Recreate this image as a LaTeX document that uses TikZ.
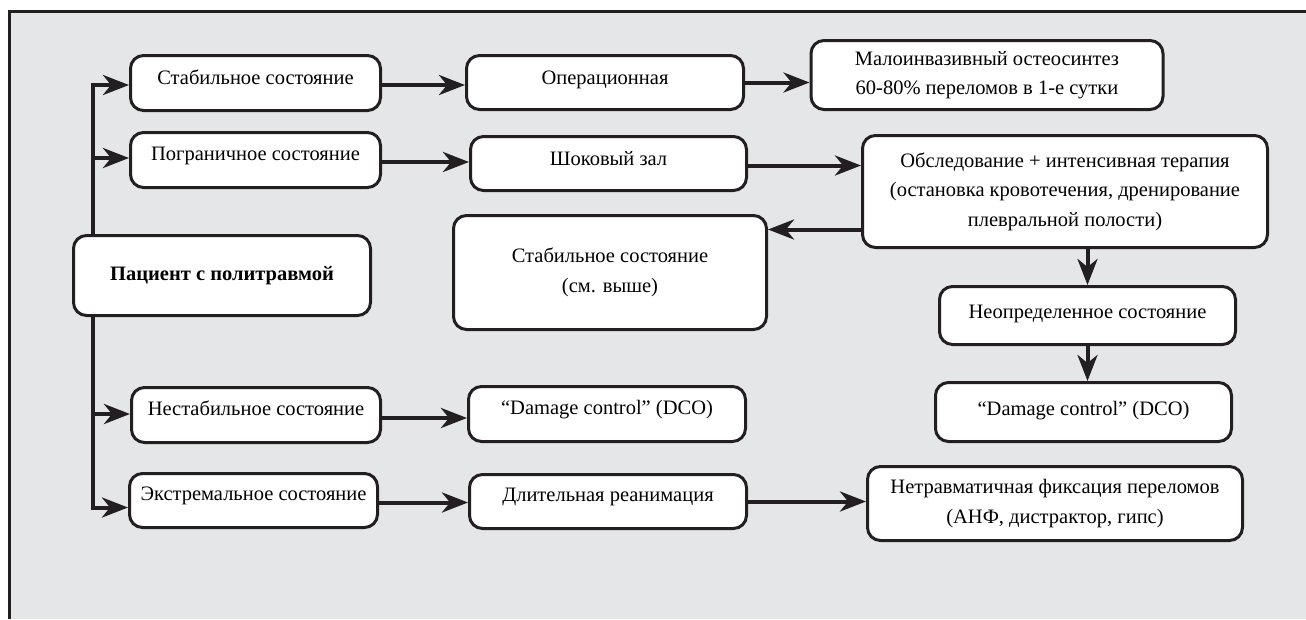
\documentclass[tikz,border=0pt]{standalone}
\usepackage{fontspec}
\setmainfont{Liberation Serif}
\usetikzlibrary{arrows.meta}
\definecolor{bggray}{HTML}{E5E6E8}
\definecolor{ink}{HTML}{231F20}
\begin{document}
\begin{tikzpicture}[x=1pt,y=-1pt,
  box/.style={draw=ink, line width=3pt, fill=white, rounded corners=13pt,
    align=center, inner sep=0pt, font=\fontsize{20.5}{29.5}\selectfont},
  hi/.style={text height=12pt, text depth=12pt},
  lo/.style={text height=13pt, text depth=10pt},
  mid/.style={text height=14pt, text depth=8pt},
  arr/.style={draw=ink, line width=4pt, line join=miter,
    -{Stealth[length=26pt,width=20pt,inset=8pt]}}
]
\useasboundingbox (0,0) rectangle (1306,619);
\fill[bggray] (9.5,11) rectangle (1306,619);
\draw[ink, line width=3pt] (9.5,619) -- (9.5,11) -- (1306,11);

% nodes
\node[box, lo, minimum width=250pt, minimum height=55pt] (s1) at (255.5,83) {Стабильное состояние};
\node[box, hi, minimum width=250pt, minimum height=55pt] (s2) at (255.5,160) {Пограничное состояние};
\node[box, minimum width=297pt, minimum height=80pt] (pat) at (222,275.5) {\textbf{Пациент с политравмой}};
\node[box, hi, minimum width=249pt, minimum height=55pt] (s3) at (256,415) {Нестабильное состояние};
\node[box, hi, minimum width=248pt, minimum height=54pt] (s4) at (253.5,500.5) {Экстремальное состояние};

\node[box, lo, minimum width=277pt, minimum height=54pt] (op) at (605,82.5) {Операционная};
\node[box, lo, minimum width=276pt, minimum height=54pt] (sh) at (608.5,163.5) {Шоковый зал};
\node[box, minimum width=313pt, minimum height=114pt] (st2) at (610,272.5) {Стабильное состояние\\(см. выше)};
\node[box, hi, minimum width=277pt, minimum height=55pt] (dc1) at (607,414) {“Damage control” (DCO)};
\node[box, hi, minimum width=277pt, minimum height=54pt] (dl) at (608,501.5) {Длительная реанимация};

\node[box, minimum width=352pt, minimum height=69pt] (mi) at (987,75) {Малоинвазивный остеосинтез\\60-80\% переломов в 1-е сутки};
\node[box, minimum width=405pt, minimum height=112pt] (ob) at (1065,191.5) {Обследование + интенсивная терапия\\(остановка кровотечения, дренирование\\плевральной полости)};
\node[box, mid, minimum width=296pt, minimum height=58pt] (un) at (1087.5,315.5) {Неопределенное состояние};
\node[box, mid, minimum width=296pt, minimum height=59pt] (dc2) at (1083.5,412) {“Damage control” (DCO)};
\node[box, minimum width=375pt, minimum height=74pt] (nt) at (1055,503.5) {Нетравматичная фиксация переломов\\(АНФ, дистрактор, гипс)};

% trunk
\coordinate (tr) at (93,0);
\draw[arr] (pat.north -| tr) |- ([yshift=-2pt]s1.west);
\draw[arr] (pat.north -| tr) |- ([yshift=2pt]s2.west);
\draw[arr] (pat.south -| tr) |- ([yshift=1pt]s3.west);
\draw[arr] (pat.south -| tr) |- ([yshift=-7pt]s4.west);

% row arrows
\draw[arr] ([yshift=-2pt]s1.east) -- ([yshift=-2pt]s1.east -| op.west);
\draw[arr] ([yshift=-2pt]s2.east) -- ([yshift=-2pt]s2.east -| sh.west);
\draw[arr] (op.east) -- (op.east -| mi.west);
\draw[arr] ([yshift=-2pt]sh.east) -- ([yshift=-2pt]sh.east -| ob.west);
\draw[arr] ([yshift=-38pt]ob.west) -- ([yshift=-38pt]ob.west -| st2.east);
\draw[arr] (un.north |- ob.south) -- (un.north);
\draw[arr] (un.south) -- (un.south |- dc2.north);
\draw[arr] ([yshift=-3pt]s3.east) -- ([yshift=-3pt]s3.east -| dc1.west);
\draw[arr] ([yshift=-2pt]s4.east) -- ([yshift=-2pt]s4.east -| dl.west);
\draw[arr] (dl.east) -- (dl.east -| nt.west);
\end{tikzpicture}
\end{document}
